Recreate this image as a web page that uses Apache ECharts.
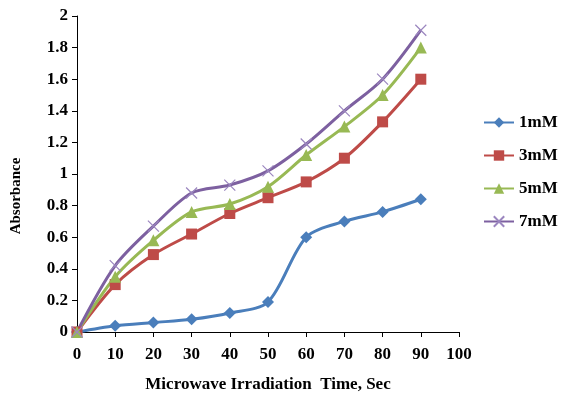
<!DOCTYPE html>
<html>
<head>
<meta charset="utf-8">
<script src="https://cdn.jsdelivr.net/npm/echarts@6/dist/echarts.min.js"></script>
<style>
  html, body { margin: 0; padding: 0; background: #fff; }
  #chart { width: 563px; height: 398px; }
</style>
</head>
<body>
<div id="chart"></div>
<script>
  // irradiation time, sec
  const times = [0, 10, 20, 30, 40, 50, 60, 70, 80, 90]
  const abs1mM = [0, 0.04, 0.06, 0.08, 0.12, 0.19, 0.60, 0.70, 0.76, 0.84]
  const abs3mM = [0, 0.30, 0.49, 0.62, 0.75, 0.85, 0.95, 1.10, 1.33, 1.60]
  const abs5mM = [0, 0.35, 0.58, 0.76, 0.81, 0.92, 1.12, 1.30, 1.50, 1.80]
  const abs7mM = [0, 0.42, 0.67, 0.88, 0.93, 1.02, 1.19, 1.40, 1.60, 1.91]
  const seriesNames = ['1mM', '3mM', '5mM', '7mM']

  const font = 'Liberation Serif'
  const crossPath = 'path://M0,0L10,10M10,0L0,10'

  const pairs = (ys) => times.map((t, i) => [t, ys[i]])

  const makeSeries = (name, ys, color, symbol, size, extra) => Object.assign({
    name: name,
    type: 'line',
    smooth: 0.3,
    data: pairs(ys),
    symbol: symbol,
    symbolSize: size,
    lineStyle: {color: color, width: 3},
    itemStyle: {color: color}
  }, extra || {})

  const chart = echarts.init(document.getElementById('chart'))
  const option = {
    animation: false,
    grid: {left: 77, right: 104, top: 16, bottom: 66},
    legend: {
      orient: 'vertical',
      left: 478,
      top: 109,
      itemGap: 16,
      itemWidth: 30,
      itemHeight: 13,
      data: seriesNames,
      textStyle: {fontFamily: font, fontWeight: 'bold', fontSize: 17, color: '#000'}
    },
    xAxis: {
      type: 'value',
      min: 0,
      max: 100,
      interval: 10,
      name: 'Microwave Irradiation  Time, Sec',
      nameLocation: 'middle',
      nameGap: 44,
      nameTextStyle: {fontFamily: font, fontWeight: 'bold', fontSize: 17, color: '#000'},
      axisLine: {lineStyle: {color: '#000', width: 1}},
      axisTick: {show: true, length: 5, lineStyle: {color: '#000'}},
      axisLabel: {fontFamily: font, fontWeight: 'bold', fontSize: 17, color: '#000', margin: 14},
      splitLine: {show: false}
    },
    yAxis: {
      type: 'value',
      min: 0,
      max: 2,
      interval: 0.2,
      axisLine: {show: true, lineStyle: {color: '#000', width: 1}},
      axisTick: {show: true, length: 5, lineStyle: {color: '#000'}},
      axisLabel: {fontFamily: font, fontWeight: 'bold', fontSize: 17, color: '#000', margin: 9},
      splitLine: {show: false}
    },
    graphic: [{
      type: 'text',
      x: 16,
      y: 196,
      rotation: Math.PI / 2,
      style: {
        text: 'Absorbance',
        fontFamily: font,
        fontWeight: 'bold',
        fontSize: 15,
        fill: '#000',
        align: 'center',
        verticalAlign: 'middle'
      }
    }],
    series: [
      makeSeries('1mM', abs1mM, '#4A7EBB', 'diamond', 12),
      makeSeries('3mM', abs3mM, '#BE4B48', 'rect', 11),
      makeSeries('5mM', abs5mM, '#98B954', 'triangle', 12),
      makeSeries('7mM', abs7mM, '#7D60A0', crossPath, 11, {
        itemStyle: {color: '#9B86BF', borderColor: '#9B86BF', borderWidth: 1.2}
      })
    ]
  }
  chart.setOption(option)
</script>
</body>
</html>
